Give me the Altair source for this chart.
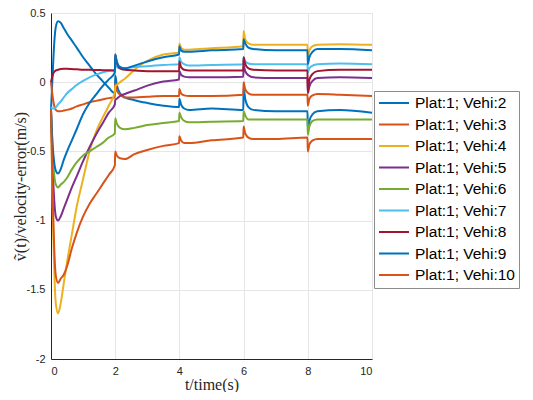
import altair as alt
import pandas as pd

# time grid (s)
T = [0, 0.05, 0.1, 0.15, 0.22, 0.3, 0.4, 0.5, 0.65, 0.8, 1.0, 1.2, 1.4, 1.6, 1.8, 1.99,
     2.0, 2.05, 2.15, 2.3, 2.6, 3.0, 3.5, 3.99,
     4.0, 4.05, 4.15, 4.3, 5.0, 5.99,
     6.0, 6.05, 6.15, 6.3, 7.0, 7.99,
     8.0, 8.05, 8.15, 8.3, 9.0, 10.0]

veh2 = [-0.2, 0.05, 0.28, 0.4, 0.44, 0.43, 0.39, 0.35, 0.3, 0.25, 0.18, 0.12, 0.06, 0.01, -0.04, -0.08,
        0.05, -0.02, -0.08, -0.11, -0.13, -0.15, -0.17, -0.18,
        -0.12, -0.16, -0.19, -0.2, -0.19, -0.2,
        -0.04, -0.12, -0.18, -0.2, -0.21, -0.21,
        -0.34, -0.28, -0.23, -0.21, -0.2, -0.22]
veh3 = [0.0, -0.1, -0.17, -0.2, -0.21, -0.21, -0.205, -0.2, -0.19, -0.175, -0.16, -0.145, -0.135, -0.125, -0.115, -0.11,
        -0.01, -0.06, -0.09, -0.11, -0.11, -0.105, -0.1, -0.1,
        -0.05, -0.08, -0.095, -0.1, -0.1, -0.09,
        0.0, -0.05, -0.08, -0.09, -0.09, -0.09,
        -0.17, -0.12, -0.095, -0.085, -0.09, -0.1]
veh4 = [-0.2, -0.9, -1.35, -1.6, -1.67, -1.6, -1.45, -1.3, -1.1, -0.9, -0.7, -0.5, -0.36, -0.26, -0.17, -0.07,
        -0.03, -0.02, 0.0, 0.025, 0.09, 0.155, 0.2, 0.215,
        0.28, 0.25, 0.235, 0.235, 0.245, 0.26,
        0.37, 0.31, 0.28, 0.27, 0.27, 0.27,
        0.19, 0.23, 0.26, 0.27, 0.275, 0.27]
veh5 = [-0.2, -0.6, -0.85, -0.97, -1.0, -0.97, -0.91, -0.85, -0.76, -0.68, -0.57, -0.47, -0.38, -0.3, -0.22, -0.16,
        -0.13, -0.12, -0.1, -0.085, -0.06, -0.025, 0.005, 0.02,
        0.08, 0.055, 0.04, 0.035, 0.035, 0.04,
        0.12, 0.08, 0.05, 0.035, 0.03, 0.03,
        -0.08, -0.03, 0.01, 0.03, 0.035, 0.03]
veh6 = [-0.2, -0.5, -0.67, -0.74, -0.76, -0.74, -0.72, -0.69, -0.63, -0.58, -0.53, -0.5, -0.47, -0.44, -0.4, -0.37,
        -0.26, -0.3, -0.33, -0.34, -0.33, -0.31, -0.295, -0.28,
        -0.22, -0.25, -0.28, -0.29, -0.285, -0.28,
        -0.21, -0.24, -0.27, -0.27, -0.27, -0.27,
        -0.38, -0.32, -0.28, -0.27, -0.27, -0.27]
veh7 = [-0.18, -0.19, -0.19, -0.18, -0.16, -0.14, -0.11, -0.08, -0.05, -0.02, 0.01, 0.035, 0.055, 0.07, 0.08, 0.085,
        0.14, 0.11, 0.1, 0.1, 0.11, 0.115, 0.125, 0.13,
        0.18, 0.15, 0.13, 0.12, 0.125, 0.13,
        0.18, 0.15, 0.135, 0.13, 0.13, 0.13,
        0.07, 0.1, 0.12, 0.13, 0.135, 0.13]
veh8 = [0.0, 0.05, 0.075, 0.085, 0.09, 0.095, 0.097, 0.097, 0.095, 0.093, 0.09, 0.09, 0.088, 0.087, 0.086, 0.085,
        0.2, 0.14, 0.1, 0.09, 0.085, 0.08, 0.08, 0.08,
        0.15, 0.11, 0.09, 0.085, 0.085, 0.085,
        0.18, 0.13, 0.1, 0.09, 0.085, 0.085,
        -0.07, 0.02, 0.06, 0.08, 0.09, 0.09]
veh9 = [-0.2, -0.45, -0.58, -0.64, -0.66, -0.63, -0.56, -0.5, -0.42, -0.34, -0.23, -0.15, -0.09, -0.03, 0.02, 0.07,
        0.2, 0.15, 0.11, 0.1, 0.12, 0.15, 0.18, 0.2,
        0.26, 0.23, 0.22, 0.22, 0.23, 0.24,
        0.31, 0.28, 0.25, 0.24, 0.23, 0.23,
        0.13, 0.18, 0.22, 0.24, 0.24, 0.23]
veh10 = [-0.2, -0.8, -1.2, -1.4, -1.45, -1.42, -1.39, -1.33, -1.2, -1.09, -0.97, -0.88, -0.81, -0.74, -0.67, -0.6,
         -0.5, -0.53, -0.55, -0.555, -0.52, -0.49, -0.46, -0.44,
         -0.39, -0.42, -0.44, -0.44, -0.42, -0.4,
         -0.32, -0.37, -0.4, -0.41, -0.41, -0.4,
         -0.5, -0.45, -0.42, -0.41, -0.41, -0.41]

names = ["Plat:1; Vehi:2", "Plat:1; Vehi:3", "Plat:1; Vehi:4", "Plat:1; Vehi:5", "Plat:1; Vehi:6",
         "Plat:1; Vehi:7", "Plat:1; Vehi:8", "Plat:1; Vehi:9", "Plat:1; Vehi:10"]
colors = ["#0072BD", "#D95319", "#EDB120", "#7E2F8E", "#77AC30", "#4DBEEE", "#A2142F", "#0072BD", "#D95319"]
series = [veh2, veh3, veh4, veh5, veh6, veh7, veh8, veh9, veh10]

x_ticks = [0, 2, 4, 6, 8, 10]
y_ticks = [-2, -1.5, -1, -0.5, 0, 0.5]

rows = []
for i, (n, vals) in enumerate(zip(names, series)):
    for t, v in zip(T, vals):
        rows.append({"t": t, "v": v, "series": n, "order": i})
df = pd.DataFrame(rows)

chart = alt.Chart(df).mark_line(strokeWidth=2, interpolate="monotone").encode(
    x=alt.X("t:Q", scale=alt.Scale(domain=[0, 10], nice=False),
            axis=alt.Axis(values=x_ticks, title="t/time(s)", labelExpr="'' + datum.value")),
    y=alt.Y("v:Q", scale=alt.Scale(domain=[-2, 0.5], nice=False),
            axis=alt.Axis(values=y_ticks, title="ṽ(t)/velocity-error(m/s)",
                          labelExpr="'' + datum.value",
                          titleX=-31, titleY=173, titleBaseline="middle", titleAlign="center")),
    color=alt.Color("series:N", sort=names,
                    scale=alt.Scale(domain=names, range=colors),
                    legend=alt.Legend(title=None, orient="none", legendX=323, legendY=78)),
    detail="series:N",
).properties(
    width=321, height=346,
    autosize=alt.AutoSizeParams(type="none"),
    padding={"left": 43, "top": 5, "right": 150, "bottom": 33},
).configure_view(
    stroke="#dcdcdc"
).configure_axis(
    domainColor="#262626", gridColor="#e6e6e6", gridWidth=1, ticks=False,
    labelColor="#262626", labelFont="Liberation Sans", labelFontSize=11, labelPadding=6,
    titleFont="Liberation Serif", titleFontSize=16, titleFontWeight="normal", titleColor="#262626",
).configure_axisX(
    titlePadding=0
).configure_legend(
    strokeColor="#8c8c8c", fillColor="white", padding=4,
    symbolType="stroke", symbolSize=900, symbolStrokeWidth=2,
    labelFont="Liberation Sans", labelFontSize=15.5, labelColor="black",
    labelOffset=5, clipHeight=16, rowPadding=4.5, labelLimit=200,
)

chart.save("out.html", embed_options={"renderer": "svg", "actions": False})
